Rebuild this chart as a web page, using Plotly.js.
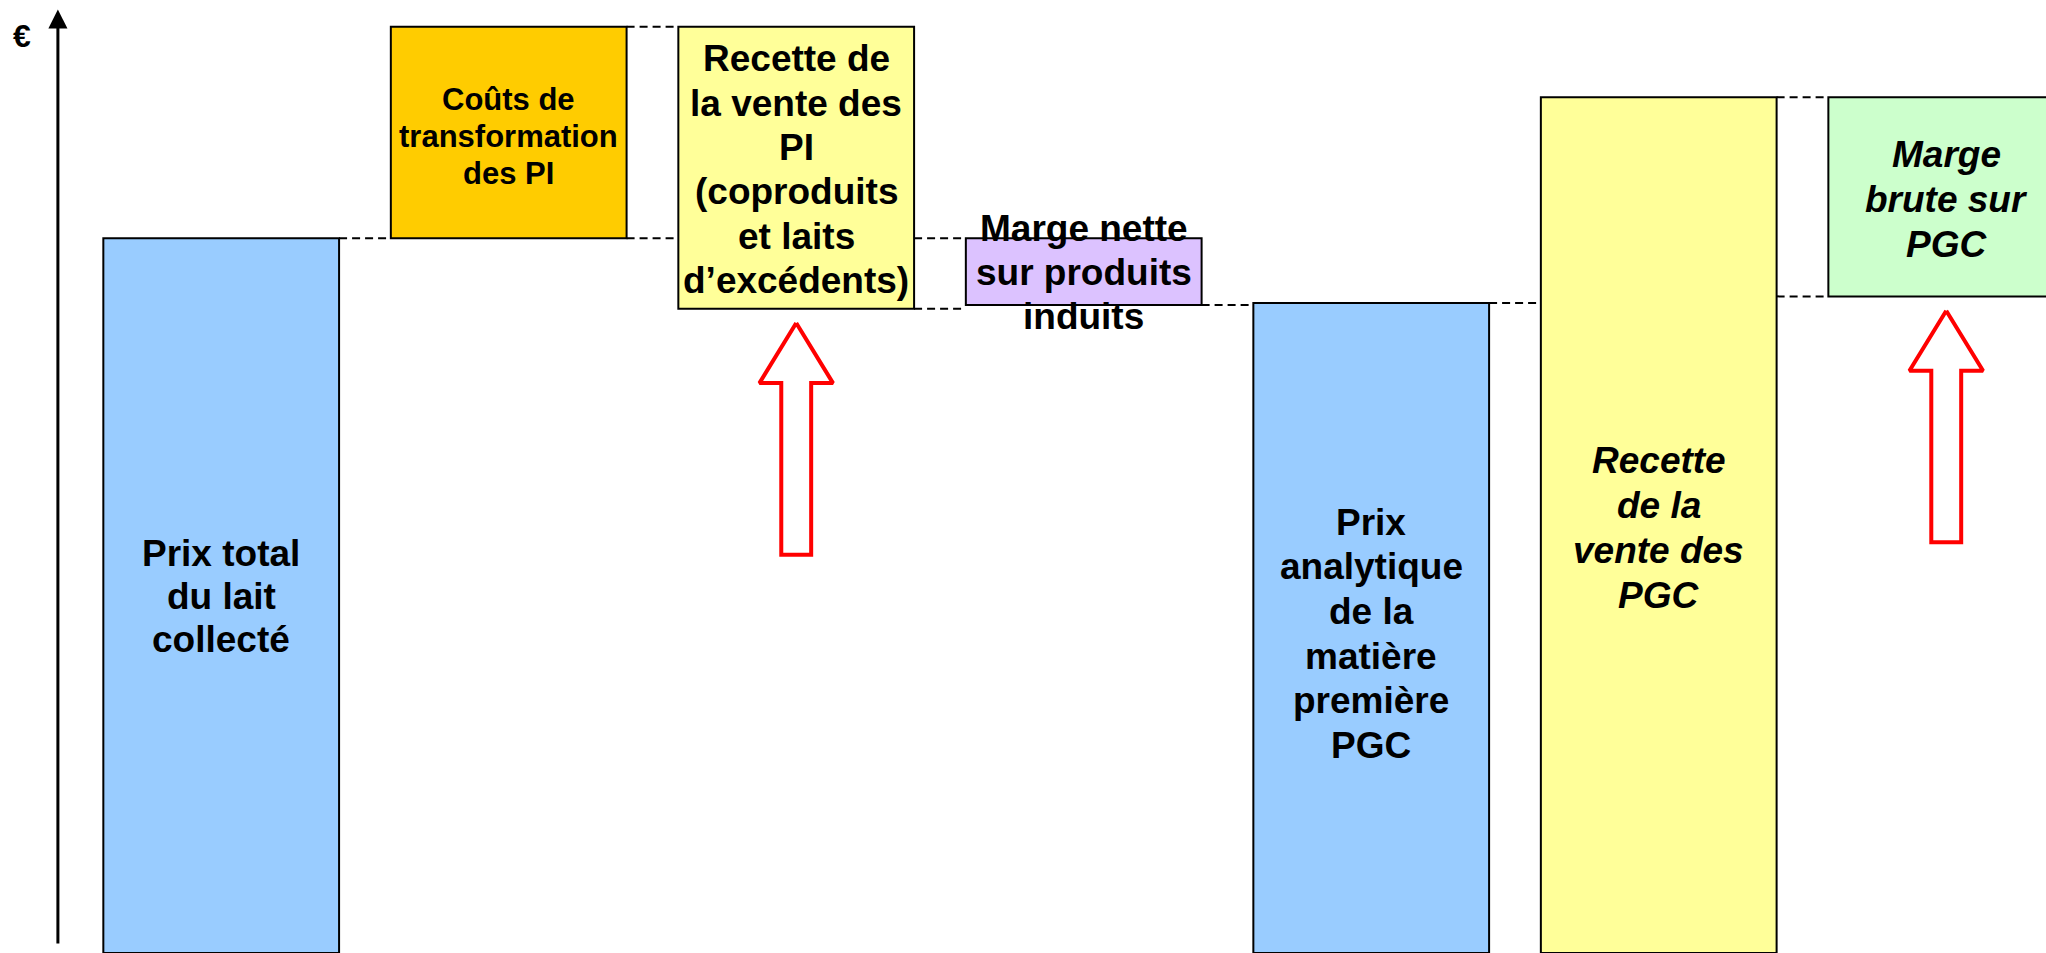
<!DOCTYPE html>
<html>
<head>
<meta charset="utf-8">
<script src="https://cdn.plot.ly/plotly-3.0.1.min.js"></script>
<style>
  html, body { margin: 0; padding: 0; background: #fff; }
  #chart { width: 2046px; height: 953px; }
</style>
</head>
<body>
<div id="chart"></div>
<script>
// one entry per box, left to right (values in € on an arbitrary 0-100 scale)
const steps = ['Prix total', 'Coûts transfo PI', 'Recette PI', 'Marge nette PI',
  'Prix analytique PGC', 'Recette PGC', 'Marge brute PGC'];
const barBase = [0, 75, 67.6, 68.0, 0, 0, 68.9];
const barTop = [75, 97.2, 97.2, 75, 68.2, 89.8, 89.8];
const barColors = ['#99ccff', '#ffcc00', '#ffff99', '#dcc2ff', '#99ccff', '#ffff99', '#ccffcc'];

const boxLabels = [
  ['Prix total', 'du lait', 'collecté'],
  ['Coûts de', 'transformation', 'des PI'],
  ['Recette de', 'la vente des', 'PI', '(coproduits', 'et laits', 'd’excédents)'],
  ['Marge nette', 'sur produits', 'induits'],
  ['Prix', 'analytique', 'de la', 'matière', 'première', 'PGC'],
  ['Recette', 'de la', 'vente des', 'PGC'],
  ['Marge', 'brute sur', 'PGC']
];
const labelItalic = [false, false, false, false, false, true, true];

// dashed links between neighbouring boxes: [left box index, level]
const links = [
  [0, barTop[0]],
  [1, barBase[1]], [1, barTop[1]],
  [2, barTop[3]], [2, barBase[2]],
  [3, barBase[3]],
  [4, barTop[4]],
  [5, barTop[5]], [5, barBase[6]]
];

// boxes that get a red arrow pointing up at them
const arrowBars = [2, 6];

// layout bits
const barWidth = 0.82;
const labelCenter = [37.4, 85.7, 82.2, 71.4, 33.5, 44.6, 79.1];
const labelSize = [37, 31, 37, 37, 37, 37, 37];
const labelStep = [43, 37, 44.4, 44, 44.6, 44.7, 45];
const FONT = '"Liberation Sans", Arial, sans-serif';

const traces = [];

traces.push({
  type: 'bar',
  x: steps.map((s, i) => i),
  y: barTop.map((t, i) => t - barBase[i]),
  base: barBase,
  width: barWidth,
  marker: {
    color: barColors,
    line: { color: '#000', width: 2 }
  },
  hoverinfo: 'skip'
});

const lx = [], ly = [];
links.forEach(([i, lvl]) => {
  lx.push(i + barWidth / 2, i + 1 - barWidth / 2, null);
  ly.push(lvl, lvl, null);
});
traces.push({
  type: 'scatter', mode: 'lines', x: lx, y: ly,
  line: { color: '#000', width: 2, dash: '8px,5px' },
  hoverinfo: 'skip'
});

arrowBars.forEach(i => {
  const tip = barBase[i] - 1.5;
  const bottom = tip - 24.3;
  const headY = tip - 6.3;
  const hw = 0.128, sw = 0.052;
  traces.push({
    type: 'scatter', mode: 'lines',
    x: [i, i + hw, i + sw, i + sw, i - sw, i - sw, i - hw, i],
    y: [tip, headY, headY, bottom, bottom, headY, headY, tip],
    line: { color: '#ff0000', width: 4 },
    hoverinfo: 'skip'
  });
});

const annotations = [];
boxLabels.forEach((lines, i) => {
  const n = lines.length;
  lines.forEach((txt, k) => {
    annotations.push({
      x: i, y: labelCenter[i], xref: 'x', yref: 'y',
      text: txt, showarrow: false,
      xanchor: 'center', yanchor: 'middle',
      yshift: -(k - (n - 1) / 2) * labelStep[i],
      font: { family: FONT, size: labelSize[i], color: '#000', weight: 'bold',
        style: labelItalic[i] ? 'italic' : 'normal' }
    });
  });
});

// value axis drawn as an arrow
annotations.push({
  x: -0.568, y: 99.0, ax: -0.568, ay: 0.84, axref: 'x', ayref: 'y',
  xref: 'x', yref: 'y', text: '', showarrow: true,
  arrowhead: 2, arrowsize: 1.27, arrowwidth: 3, arrowcolor: '#000', standoff: 0
});
annotations.push({
  x: -0.693, y: 96.2, xref: 'x', yref: 'y', text: '€', showarrow: false,
  font: { family: FONT, size: 32, color: '#000', weight: 'bold' }
});

const layout = {
  width: 2046,
  height: 953,
  margin: { l: 0, r: 0, t: 0, b: 0 },
  paper_bgcolor: '#fff',
  plot_bgcolor: '#fff',
  showlegend: false,
  hovermode: false,
  xaxis: { range: [-0.7694, 6.347], visible: false, fixedrange: true },
  yaxis: { range: [0, 100], visible: false, fixedrange: true },
  annotations: annotations
};

Plotly.newPlot('chart', traces, layout, { displayModeBar: false, staticPlot: true });
</script>
</body>
</html>
